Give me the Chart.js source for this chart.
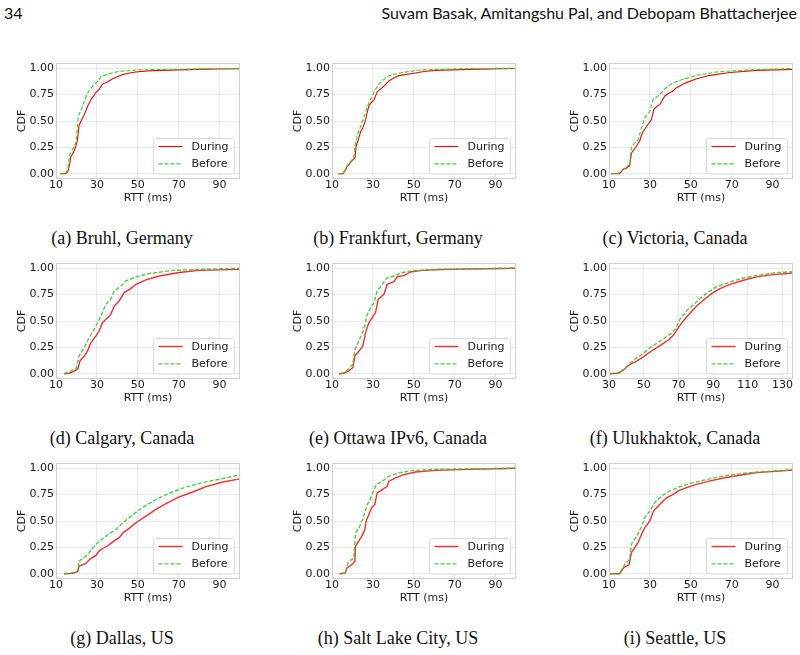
<!DOCTYPE html>
<html>
<head>
<meta charset="utf-8">
<script src="https://cdn.jsdelivr.net/npm/chart.js@4.4.1/dist/chart.umd.min.js"></script>
<style>
  html,body{margin:0;padding:0;background:#fff;}
  #page{position:relative;width:800px;height:655px;background:#fff;overflow:hidden;}
  .hdr{position:absolute;top:3px;font-family:Lato,"Open Sans",sans-serif;font-size:16px;line-height:19px;color:#111;white-space:nowrap;}
  .cap{position:absolute;width:300px;text-align:center;font-family:"Liberation Serif","DejaVu Serif",serif;font-size:18px;line-height:20px;color:#111;white-space:nowrap;}
  canvas{position:absolute;}
</style>
</head>
<body>
<div id="page">
  <div class="hdr" style="left:4px">34</div>
  <div class="hdr" style="right:3px">Suvam Basak, Amitangshu Pal, and Debopam Bhattacherjee</div>
</div>
<script>
// ---------------- data (RTT in ms, CDF value) ----------------
const seriesLabels = ['During', 'Before'];
const cdfTicks = [0, 0.25, 0.5, 0.75, 1.0];
const rttTicks = [10, 30, 50, 70, 90];
const rttTicksUlukhaktok = [30, 50, 70, 90, 110, 130];
const captions = ['(a) Bruhl, Germany', '(b) Frankfurt, Germany', '(c) Victoria, Canada',
                  '(d) Calgary, Canada', '(e) Ottawa IPv6, Canada', '(f) Ulukhaktok, Canada',
                  '(g) Dallas, US', '(h) Salt Lake City, US', '(i) Seattle, US'];

const bruhlDuring = [[12,0],[15,0],[15.8,0.02],[16.8,0.1],[17.2,0.16],[18.5,0.2],[19.7,0.26],[20.5,0.32],[21.3,0.46],[22.5,0.51],[23.8,0.56],[25.5,0.64],[27,0.70],[28.5,0.74],[29.5,0.77],[31.1,0.80],[32.7,0.85],[35.2,0.87],[37.7,0.90],[40,0.92],[42.6,0.94],[46,0.955],[49,0.965],[55,0.975],[60.5,0.98],[70,0.985],[80,0.99],[90,0.993],[100,0.995]];
const bruhlBefore = [[12,0],[14.8,0],[15.8,0.05],[16.5,0.16],[16.9,0.19],[18.9,0.26],[19.8,0.30],[20.5,0.45],[20.9,0.545],[23,0.64],[24.5,0.72],[26.2,0.79],[28,0.83],[29.5,0.86],[31,0.89],[31.9,0.92],[36,0.95],[40.9,0.97],[50.7,0.985],[60,0.988],[70,0.99],[85,0.995],[100,0.997]];

const frankfurtDuring = [[13,0],[15.3,0],[16.5,0.03],[17.4,0.07],[19.6,0.12],[21.2,0.15],[21.8,0.26],[23,0.33],[24,0.40],[25,0.43],[26.4,0.51],[27.2,0.58],[28,0.64],[29,0.67],[30.5,0.70],[32.2,0.78],[33.5,0.80],[35.4,0.83],[37.8,0.88],[40,0.905],[42.7,0.93],[49.2,0.95],[55,0.97],[60.6,0.98],[77,0.99],[100,0.998]];
const frankfurtBefore = [[13,0],[15.3,0],[16.5,0.04],[17.9,0.09],[20.6,0.15],[21.4,0.28],[22.5,0.37],[24,0.45],[25.3,0.52],[26.4,0.58],[28,0.67],[29.5,0.73],[31.3,0.80],[33,0.85],[34.5,0.88],[37.8,0.93],[44.3,0.96],[54,0.985],[77,0.997],[100,1.0]];

const victoriaDuring = [[11,0],[15.2,0],[16.9,0.04],[18.5,0.055],[20.1,0.075],[21,0.197],[23.4,0.26],[25,0.31],[25.8,0.36],[26.7,0.40],[29.1,0.467],[30.8,0.514],[31.9,0.61],[33.5,0.64],[34.9,0.657],[37.3,0.737],[39.8,0.77],[41,0.78],[43,0.816],[47.9,0.864],[52.8,0.90],[59.4,0.933],[69.2,0.96],[82.3,0.98],[100,0.99]];
const victoriaBefore = [[11,0],[14.4,0],[16,0.03],[17.7,0.055],[20.1,0.086],[21,0.26],[24.2,0.32],[25.9,0.435],[27.5,0.53],[30,0.59],[31.6,0.705],[34.9,0.75],[37.3,0.806],[41.4,0.864],[46.3,0.895],[52.8,0.933],[62.7,0.965],[77.4,0.984],[100,0.997]];

const calgaryDuring = [[14,0],[16.4,0.005],[18.9,0.025],[20.8,0.05],[21.7,0.12],[23.8,0.168],[25.4,0.215],[27,0.294],[29.5,0.357],[31.1,0.405],[32.7,0.484],[35.2,0.53],[36.8,0.563],[38.5,0.642],[40.9,0.69],[43.4,0.77],[46.6,0.807],[49.1,0.848],[54,0.89],[60.5,0.927],[70.3,0.96],[80.1,0.98],[100,0.99]];
const calgaryBefore = [[14,0],[17.2,0.025],[20,0.057],[21.3,0.168],[23.8,0.247],[26.2,0.342],[28.7,0.42],[31.1,0.516],[32.7,0.58],[34.4,0.658],[36.8,0.706],[38.5,0.785],[41.7,0.83],[44.2,0.88],[49.1,0.918],[55.6,0.95],[67,0.98],[83.3,0.99],[100,1.0]];

const ottawaDuring = [[13.4,0],[15.8,0.005],[18.3,0.03],[20.2,0.057],[21.2,0.168],[23.2,0.215],[25.1,0.263],[26.4,0.39],[28,0.484],[29.6,0.53],[31.3,0.58],[32.6,0.706],[35.4,0.753],[37,0.848],[40.3,0.873],[41.9,0.92],[45.2,0.93],[48.4,0.965],[54.1,0.98],[67.2,0.99],[100,1.0]];
const ottawaBefore = [[14.2,0],[16,0.01],[18.3,0.05],[20.2,0.089],[21.2,0.23],[23.5,0.326],[25.6,0.42],[27.2,0.56],[28.8,0.627],[30.5,0.67],[32.1,0.785],[34.6,0.848],[37,0.91],[40.3,0.924],[43.5,0.956],[49.2,0.975],[60.6,0.99],[100,1.0]];

const ulukhaktokDuring = [[30,0],[35.4,0.005],[38.3,0.035],[42.1,0.089],[45.9,0.12],[49.8,0.16],[53.6,0.206],[57.5,0.247],[61.3,0.288],[64.2,0.32],[67.1,0.364],[69.9,0.437],[72.8,0.5],[76.7,0.576],[80.5,0.642],[84.3,0.696],[89.1,0.76],[93.9,0.807],[99.7,0.848],[107.4,0.886],[115.1,0.918],[124.7,0.94],[136,0.955]];
const ulukhaktokBefore = [[30,0],[34.8,0.005],[38.3,0.04],[42.1,0.10],[45.9,0.15],[49.8,0.193],[53.6,0.247],[57.5,0.288],[61.3,0.332],[65.1,0.373],[68,0.42],[70.9,0.516],[74.7,0.595],[78.6,0.655],[82.4,0.712],[87.2,0.775],[92,0.826],[99.7,0.87],[107.4,0.908],[117,0.937],[126.6,0.959],[136,0.968]];

const dallasDuring = [[14,0],[18,0.003],[20.5,0.02],[21.3,0.073],[24.6,0.098],[26.5,0.136],[29.5,0.174],[31.1,0.215],[32.7,0.237],[35.2,0.263],[37.6,0.30],[40.9,0.342],[42.9,0.39],[45.8,0.43],[49.1,0.484],[54,0.547],[58.9,0.61],[63.8,0.665],[70.3,0.728],[76.9,0.775],[83.4,0.826],[91.6,0.87],[100,0.90]];
const dallasBefore = [[14,0],[18,0.01],[20.7,0.025],[21.3,0.12],[23.8,0.152],[26.2,0.2],[29.5,0.278],[32.7,0.332],[36,0.38],[39.3,0.42],[42.5,0.478],[45.8,0.532],[49.9,0.595],[54.8,0.658],[60.5,0.72],[67,0.775],[73.6,0.823],[81.8,0.864],[89.9,0.896],[100,0.937]];

const saltLakeDuring = [[13.7,0],[16.3,0.005],[17.4,0.054],[19.6,0.085],[21.2,0.117],[21.5,0.26],[23.5,0.323],[24.8,0.364],[26.1,0.42],[26.7,0.5],[28,0.56],[29.3,0.623],[30.9,0.655],[32.1,0.766],[34.6,0.797],[37,0.83],[37.8,0.877],[41.1,0.908],[45.2,0.94],[50.9,0.965],[60.6,0.98],[77,0.99],[100,1.0]];
const saltLakeBefore = [[14.2,0],[16.5,0.01],[17,0.04],[17.9,0.11],[20.7,0.15],[21.5,0.386],[23.2,0.434],[24.8,0.51],[27.3,0.655],[29.3,0.734],[31.6,0.845],[34.6,0.877],[37.8,0.924],[42.7,0.956],[49.2,0.978],[60.6,0.99],[100,1.0]];

const seattleDuring = [[10,0],[15.2,0],[16.5,0.04],[17.7,0.066],[19.8,0.085],[21,0.2],[22.6,0.247],[24.2,0.294],[25.9,0.373],[27.5,0.437],[30,0.5],[31.6,0.59],[34,0.64],[36.5,0.69],[38.1,0.72],[41.4,0.753],[43.9,0.785],[47.9,0.816],[52.8,0.848],[59.4,0.88],[69.2,0.92],[82.3,0.959],[100,0.984]];
const seattleBefore = [[10,0],[15.2,0],[17.7,0.089],[20.1,0.136],[21,0.28],[23.4,0.35],[25.9,0.446],[27.5,0.53],[30,0.595],[32.4,0.674],[35.7,0.737],[39.8,0.785],[44.7,0.826],[51.2,0.864],[59.4,0.90],[69.2,0.937],[82.3,0.965],[100,0.984]];

const panelSeries = [
  [bruhlDuring, bruhlBefore], [frankfurtDuring, frankfurtBefore], [victoriaDuring, victoriaBefore],
  [calgaryDuring, calgaryBefore], [ottawaDuring, ottawaBefore], [ulukhaktokDuring, ulukhaktokBefore],
  [dallasDuring, dallasBefore], [saltLakeDuring, saltLakeBefore], [seattleDuring, seattleBefore]
];
const panelXRange = [[10,100],[10,100],[10,100],[10,100],[10,100],[30,136],[10,100],[10,100],[10,100]];
const panelXTicks = [rttTicks, rttTicks, rttTicks, rttTicks, rttTicks, rttTicksUlukhaktok, rttTicks, rttTicks, rttTicks];

// ---------------- layout / style ----------------
const colLeft = [56, 332, 609];
const rowTop = [63, 263, 463];
const PW = 184, PH = 116, PADL = 56, PADT = 10, PADR = 8, XAXH = 30;
const tickFont = {family: 'DejaVu Sans', size: 11, lineHeight: 1.2};
const textColor = '#1a1a1a';
const gridColor = '#e9e9e9';
const frameColor = '#cfcfcf';

const framePlugin = {
  id: 'frame',
  afterDatasetsDraw(chart) {
    const {ctx, chartArea: a} = chart;
    ctx.save();
    ctx.strokeStyle = frameColor;
    ctx.lineWidth = 1;
    ctx.strokeRect(Math.round(a.left) + 0.5, Math.round(a.top) + 0.5, Math.round(a.right - a.left) - 1, Math.round(a.bottom - a.top) - 1);
    ctx.restore();
  }
};

const cornerLegend = {
  id: 'cornerLegend',
  afterDraw(chart) {
    const {ctx, chartArea: a} = chart;
    const w = 81, h = 35.5;
    const x = Math.round(a.right - 6 - w) + 0.5, y = Math.round(a.bottom - 6 - h) + 0.5;
    ctx.save();
    ctx.beginPath();
    const r = 3;
    ctx.moveTo(x + r, y);
    ctx.arcTo(x + w, y, x + w, y + h, r);
    ctx.arcTo(x + w, y + h, x, y + h, r);
    ctx.arcTo(x, y + h, x, y, r);
    ctx.arcTo(x, y, x + w, y, r);
    ctx.closePath();
    ctx.fillStyle = 'rgba(255,255,255,0.8)';
    ctx.fill();
    ctx.strokeStyle = '#d8d8d8';
    ctx.lineWidth = 1;
    ctx.stroke();
    chart.data.datasets.forEach((ds, i) => {
      const cy = y + 8 + i * 17.4;
      ctx.beginPath();
      ctx.strokeStyle = ds.borderColor;
      ctx.lineWidth = ds.borderWidth;
      ctx.setLineDash(ds.borderDash || []);
      ctx.moveTo(x + 5, cy);
      ctx.lineTo(x + 29, cy);
      ctx.stroke();
      ctx.setLineDash([]);
      ctx.fillStyle = textColor;
      ctx.font = '11px "DejaVu Sans"';
      ctx.textBaseline = 'middle';
      ctx.textAlign = 'left';
      ctx.fillText(ds.label, x + 38, cy + 0.5);
    });
    ctx.restore();
  }
};

const page = document.getElementById('page');

panelSeries.forEach((series, idx) => {
  const col = idx % 3, row = Math.floor(idx / 3);
  const canvas = document.createElement('canvas');
  const cw = PADL + PW + PADR, ch = PADT + PH + XAXH;
  canvas.width = cw; canvas.height = ch;
  canvas.style.left = (colLeft[col] - PADL) + 'px';
  canvas.style.top = (rowTop[row] - PADT) + 'px';
  canvas.style.width = cw + 'px'; canvas.style.height = ch + 'px';
  page.appendChild(canvas);

  const cap = document.createElement('div');
  cap.className = 'cap';
  cap.textContent = captions[idx];
  cap.style.left = (colLeft[col] + PW / 2 - 26 - 150) + 'px';
  cap.style.top = (rowTop[row] + 165) + 'px';
  page.appendChild(cap);

  const firstRow = row === 0;
  const red = firstRow ? '#ff0000' : 'rgba(255,20,20,0.9)';
  const green = firstRow ? '#22dd22' : 'rgba(40,200,40,0.85)';
  const lw = firstRow ? 1.1 : 1.4;
  const xt = panelXTicks[idx];

  new Chart(canvas, {
    type: 'scatter',
    data: {
      datasets: [
        {label: seriesLabels[0], data: series[0].map(([x, y]) => ({x, y})), showLine: true,
         borderColor: red, backgroundColor: red, borderWidth: lw, pointRadius: 0, tension: 0, order: 1},
        {label: seriesLabels[1], data: series[1].map(([x, y]) => ({x, y})), showLine: true,
         borderColor: green, backgroundColor: green, borderWidth: lw, borderDash: [4, 2], pointRadius: 0, tension: 0, order: 0}
      ]
    },
    options: {
      responsive: false, animation: false, events: [], devicePixelRatio: 1,
      layout: {padding: {left: 0, top: PADT, right: PADR, bottom: 0}},
      plugins: {legend: {display: false}, tooltip: {enabled: false}},
      scales: {
        x: {
          type: 'linear', min: panelXRange[idx][0], max: panelXRange[idx][1],
          afterBuildTicks: s => { s.ticks = xt.map(v => ({value: v})); },
          afterFit: s => { s.height = XAXH; },
          grid: {color: gridColor, lineWidth: 1, drawTicks: false},
          border: {display: false},
          ticks: {padding: 0, autoSkip: false, maxRotation: 0, font: tickFont, color: textColor,
                  callback: v => String(v)},
          title: {display: true, text: 'RTT (ms)', font: tickFont, color: textColor, padding: {top: 0, bottom: 4.7}}
        },
        y: {
          type: 'linear', min: -0.05, max: 1.05,
          afterBuildTicks: s => { s.ticks = cdfTicks.map(v => ({value: v})); },
          afterFit: s => { s.width = PADL; },
          grid: {color: gridColor, lineWidth: 1, drawTicks: false},
          border: {display: false},
          ticks: {padding: 2, autoSkip: false, font: tickFont, color: textColor,
                  callback: v => Number(v).toFixed(2)},
          title: {display: true, text: 'CDF', font: tickFont, color: textColor, padding: {top: 15.4, bottom: 0}}
        }
      }
    },
    plugins: [framePlugin, cornerLegend]
  });
});
</script>
</body>
</html>
